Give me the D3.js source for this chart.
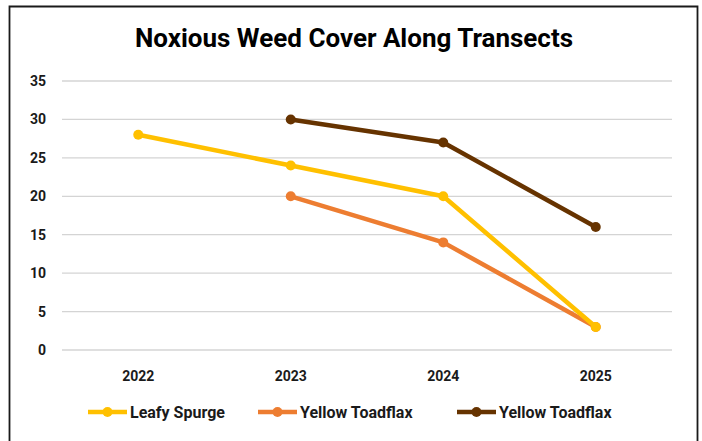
<!DOCTYPE html>
<html>
<head>
<meta charset="utf-8">
<script src="https://cdn.jsdelivr.net/npm/d3@7"></script>
<style>
  body { margin: 0; background: #fff; }
  text { font-family: "Roboto", "Liberation Sans", sans-serif; }
</style>
</head>
<body>
<svg id="chart"></svg>
<script>
const years = ["2022", "2023", "2024", "2025"];
const seriesNames = ["Leafy Spurge", "Yellow Toadflax", "Yellow Toadflax"];
const leafySpurge = [28, 24, 20, 3];
const yellowToadflaxA = [null, 20, 14, 3];
const yellowToadflaxB = [null, 30, 27, 16];
const colors = ["#FFC000", "#ED7D31", "#663300"];
const yTicks = [0, 5, 10, 15, 20, 25, 30, 35];

const width = 702, height = 441;
const svg = d3.select("#chart").attr("width", width).attr("height", height);

// frame (no bottom edge visible)
svg.append("path")
    .attr("d", "M9.5,441 V6.5 H697.5 V441")
    .attr("fill", "none").attr("stroke", "#1a1a1a").attr("stroke-width", 1.8);

svg.append("text")
    .attr("x", 354).attr("y", 47)
    .attr("text-anchor", "middle")
    .attr("font-size", 26).attr("font-weight", "bold")
    .attr("fill", "#000")
    .text("Noxious Weed Cover Along Transects");

let x = d3.scaleBand().domain(years).range([62, 672]);
let y = d3.scaleLinear().domain([0, 35]).range([350, 81]);

// gridlines
svg.append("g").selectAll("line")
    .data(yTicks).enter().append("line")
    .attr("x1", 62).attr("x2", 672)
    .attr("y1", d => y(d)).attr("y2", d => y(d))
    .attr("stroke", "#d4d4d4").attr("stroke-width", 1.3);

// y labels
svg.append("g").selectAll("text")
    .data(yTicks).enter().append("text")
    .attr("x", 46).attr("y", d => y(d) + 5)
    .attr("text-anchor", "end")
    .attr("font-size", 14).attr("font-weight", "bold").attr("fill", "#1a1a1a")
    .text(d => d);

// x labels
svg.append("g").selectAll("text")
    .data(years).enter().append("text")
    .attr("x", d => x(d) + x.bandwidth() / 2).attr("y", 381)
    .attr("text-anchor", "middle")
    .attr("font-size", 14).attr("font-weight", "bold").attr("fill", "#1a1a1a")
    .text(d => d);

const allSeries = [leafySpurge, yellowToadflaxA, yellowToadflaxB];
let lineGenerator = d3.line()
    .defined(d => d.v !== null)
    .x(d => x(d.year) + x.bandwidth() / 2)
    .y(d => y(d.v));

// draw orange, yellow, then brown on top like reference
[1, 0, 2].forEach(i => {
    let pts = years.map((yr, j) => ({ year: yr, v: allSeries[i][j] }));
    let g = svg.append("g");
    g.append("path")
        .attr("fill", "none").attr("stroke", colors[i])
        .attr("stroke-width", 4.5).attr("stroke-linejoin", "round")
        .attr("d", lineGenerator(pts));
    g.selectAll("circle")
        .data(pts.filter(d => d.v !== null)).enter().append("circle")
        .attr("r", 5).attr("fill", colors[i])
        .attr("cx", d => x(d.year) + x.bandwidth() / 2)
        .attr("cy", d => y(d.v));
});

// legend
const legendX = [88, 258, 457];
let legend = svg.append("g").selectAll("g")
    .data(seriesNames).enter().append("g")
    .attr("transform", (d, i) => `translate(${legendX[i]},412)`);
legend.append("line")
    .attr("x1", 0).attr("x2", 39)
    .attr("stroke", (d, i) => colors[i]).attr("stroke-width", 4.5);
legend.append("circle")
    .attr("cx", 19.5).attr("r", 5).attr("fill", (d, i) => colors[i]);
legend.append("text")
    .attr("x", 42).attr("y", 6)
    .attr("font-size", 16).attr("font-weight", "bold").attr("fill", "#1a1a1a")
    .text(d => d);
</script>
</body>
</html>
